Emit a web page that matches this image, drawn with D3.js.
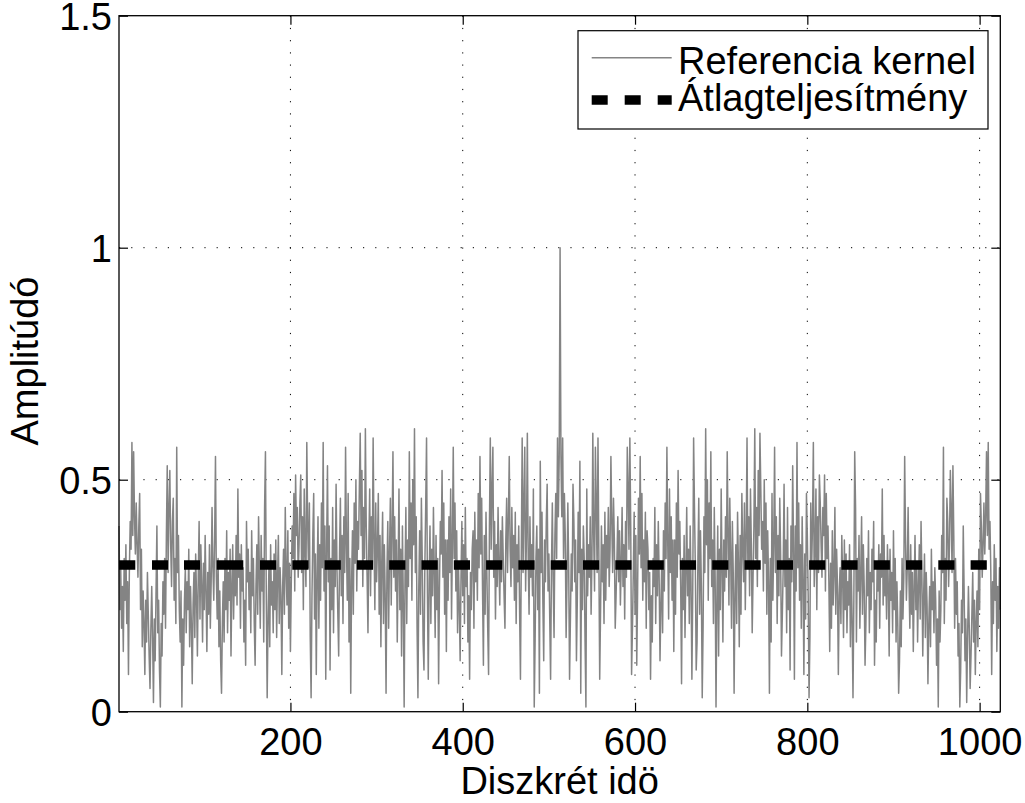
<!DOCTYPE html>
<html><head><meta charset="utf-8">
<script src="https://cdn.jsdelivr.net/npm/d3@7"></script>
<style>
body{margin:0;background:#fff;}
svg{display:block;}
text{font-family:"Liberation Sans",Arial,Helvetica,sans-serif;fill:#000;}
</style>
</head><body>
<svg id="chart" width="1025" height="803"></svg>
<script>
// ---- data (amplitudes in hundredths, samples 1..1024) ----
const kernelFirstHalf = [
40,22,31,18,27,13,33,24,36,19,28,8,30,41,35,58,38,56,42,34,
45,36,29,40,47,22,35,14,26,19,8,24,15,30,21,12,5,18,27,16,
2,20,11,26,40,17,24,9,1,19,12,28,21,33,18,38,53,30,44,52,
36,27,41,46,24,33,19,57,30,38,22,15,26,1,20,10,24,31,17,28,
22,35,14,27,19,6,23,30,16,34,25,12,29,41,20,36,27,15,32,22,
38,26,13,30,21,36,18,28,44,31,24,37,55,29,20,33,14,26,11,4,
19,28,15,33,22,39,17,30,24,35,12,27,36,20,31,25,38,23,48,29,
34,18,36,26,31,15,24,10,41,28,35,22,30,17,39,25,33,19,10,27,
36,21,42,30,18,38,26,33,15,44,56,24,3,20,31,14,36,23,28,17,
34,22,37,16,29,38,19,31,25,8,27,35,21,44,30,23,39,18,32,13,
28,40,33,47,26,51,38,44,29,36,45,51,30,42,22,48,35,27,58,40,
31,45,16,3,25,38,47,20,34,8,29,42,18,36,24,45,31,58,26,40,
7,35,53,28,40,9,33,22,44,17,37,27,49,31,21,12,34,46,25,38,
19,42,30,57,36,24,47,15,33,4,28,39,21,45,32,50,26,41,35,48,
60,38,52,27,44,33,61,40,29,17,36,48,25,42,31,59,37,22,45,28,
35,47,21,38,14,32,43,19,36,25,4,30,41,18,34,46,23,39,56,29,
42,26,37,15,31,48,22,35,12,40,24,1,29,44,19,37,27,56,33,45,
24,50,36,61,30,42,18,3,27,39,21,46,33,15,9,31,44,59,26,7,
28,40,19,35,25,44,30,16,38,22,33,6,27,41,34,52,29,45,21,37,
13,37,24,42,30,48,20,36,57,33,45,26,39,17,32,23,11,29,41,25,
36,19,44,27,33,15,25,7,30,22,35,39,18,43,28,37,24,47,31,55,
34,46,26,10,38,21,43,30,18,8,40,59,35,48,57,29,41,20,36,27,
44,32,23,39,28,42,33,25,18,37,46,30,41,55,35,27,44,31,38,24,
43,19,36,28,40,22,7,34,59,30,45,57,26,38,60,33,21,42,29,36,
25,48,1,15,33,40,22,35,4,54,30,43,24,11,37,28,41,49,26,34,
20,7,31,45,28,16,38,47,33,59,42,55,100
];
const kernelSecondHalf = [
55,42,59,33,47,38,16,28,45,31,7,20,
34,26,49,41,28,37,11,24,43,30,54,4,35,22,40,33,15,1,48,25,
36,29,42,21,33,60,38,26,57,45,30,59,34,7,22,40,28,36,19,43,
24,38,31,44,27,35,55,41,30,46,37,18,25,33,42,28,39,23,32,44,
27,36,20,41,29,57,48,35,59,40,8,18,30,43,21,38,10,26,46,34,
55,31,47,24,37,28,43,18,39,35,22,30,7,25,15,33,27,44,19,36,
25,41,29,11,23,32,17,39,26,45,33,57,36,20,48,30,42,24,37,13,
37,21,45,29,52,34,41,27,6,33,22,38,16,30,44,25,35,19,40,28,
7,26,59,44,31,9,15,33,46,21,39,27,3,18,42,30,61,36,50,24,
45,33,56,27,37,19,44,29,1,24,40,12,35,22,48,31,15,37,26,42,
29,56,39,23,46,34,18,41,30,4,25,36,19,43,32,14,38,21,47,35,
28,45,22,37,59,31,42,25,48,36,17,29,40,61,33,44,27,52,38,60,
48,35,41,26,50,32,45,21,39,28,4,33,15,47,24,36,57,30,42,19,
38,25,46,34,12,21,31,49,27,37,17,44,22,33,9,40,28,53,35,7,
40,26,58,31,45,24,36,18,42,29,8,34,20,47,38,25,3,16,45,31,
40,58,27,35,48,22,42,30,51,45,36,29,44,38,51,26,47,33,40,28,
13,32,18,39,23,30,44,21,35,27,8,25,31,19,38,29,16,37,22,34,
17,28,23,36,14,31,20,3,24,56,44,15,33,26,38,18,30,42,21,36,
27,10,19,33,25,39,17,30,22,35,28,41,10,24,15,31,26,36,18,34,
29,48,23,38,25,31,20,36,27,12,35,24,30,17,39,22,33,15,28,19,
4,11,26,14,33,20,29,55,37,24,31,44,28,18,36,21,30,13,26,38,
22,32,15,27,36,20,41,29,12,25,34,16,30,23,6,19,27,14,35,22,
28,17,31,24,10,20,1,26,15,22,38,30,57,19,33,24,46,41,27,36,
52,44,30,53,38,18,33,21,28,12,19,1,9,24,17,40,26,11,20,2,
16,27,18,5,12,21,30,15,24,8,19,26,14,35,22,47,40,29,36,45,
34,42,56,38,58,35,41,30,8,28,19,36,24,33,13,27,18,31,22
];
const averagePower = 0.316;
const xDomain = [1, 1024];
const yDomain = [0, 1.5];
const xTickValues = [200, 400, 600, 800, 1000];
const yTickValues = [0, 0.5, 1, 1.5];
const yTickLabels = ["0", "0.5", "1", "1.5"];
const seriesNames = ["Referencia kernel", "Átlagteljesítmény"];
const xAxisTitle = "Diszkrét idö";
const yAxisTitle = "Amplitúdó";

// ---- layout ----
const L = 119, R = 1000.3, T = 15.7, B = 711.7;
const FS = 38;
const svg = d3.select("#chart");
const x = d3.scaleLinear().domain(xDomain).range([L, R]);
const y = d3.scaleLinear().domain(yDomain).range([B, T]);

const amplitude = kernelFirstHalf.concat(kernelSecondHalf).map(v => v / 100);
const samples = amplitude.map((v, i) => ({n: i + 1, v}));

// grid (dotted)
const grid = svg.append("g").attr("stroke", "#000").attr("stroke-width", 1)
  .attr("stroke-dasharray", "1.2,11").attr("fill", "none");
xTickValues.forEach(t => {
  grid.append("line").attr("x1", x(t)).attr("x2", x(t)).attr("y1", y(yDomain[1])).attr("y2", y(yDomain[0]));
});
yTickValues.filter(t => t > yDomain[0] && t < yDomain[1]).forEach(t => {
  grid.append("line").attr("x1", x(xDomain[0])).attr("x2", x(xDomain[1])).attr("y1", y(t)).attr("y2", y(t));
});

// kernel series
svg.append("path").datum(samples)
  .attr("fill", "none").attr("stroke", "#848484").attr("stroke-width", 1.5)
  .attr("stroke-linejoin", "round")
  .attr("d", d3.line().x(d => x(d.n)).y(d => y(d.v)));

// average power (thick dashed)
const dashPattern = [16.3,16.7,16,16,16,16.7,26.6,16.7].concat(d3.range(28).flatMap(() => [16.2,16.1]));
svg.append("line")
  .attr("x1", x(xDomain[0])).attr("x2", x(xDomain[1]))
  .attr("y1", y(averagePower)).attr("y2", y(averagePower))
  .attr("stroke", "#000").attr("stroke-width", 9.5)
  .attr("stroke-dasharray", dashPattern.join(","));

// axes box + ticks
const axStyle = g => { g.select(".domain").remove(); g.selectAll(".tick line").attr("stroke", "#000").attr("stroke-width", 1.2); g.selectAll("text").attr("font-size", FS).attr("font-family", "Liberation Sans, Arial, sans-serif").attr("fill", "#000"); };
svg.append("g").attr("transform", `translate(0,${B})`)
  .call(d3.axisBottom(x).tickValues(xTickValues).tickFormat(d3.format("d")).tickSize(-9).tickSizeOuter(0).tickPadding(16.3))
  .call(axStyle);
svg.append("g").attr("transform", `translate(0,${T})`)
  .call(d3.axisTop(x).tickValues(xTickValues).tickFormat("").tickSize(-9).tickSizeOuter(0))
  .call(axStyle);
const leftAxis = svg.append("g").attr("transform", `translate(${L},0)`)
  .call(d3.axisLeft(y).tickValues(yTickValues).tickFormat((d, i) => yTickLabels[i]).tickSize(-9).tickSizeOuter(0).tickPadding(7))
  .call(axStyle);
leftAxis.selectAll("text").attr("dy", "0.36em");
svg.append("g").attr("transform", `translate(${R},0)`)
  .call(d3.axisRight(y).tickValues(yTickValues).tickFormat("").tickSize(-9).tickSizeOuter(0))
  .call(axStyle);
svg.append("rect").attr("x", L).attr("y", T).attr("width", R - L).attr("height", B - T)
  .attr("fill", "none").attr("stroke", "#000").attr("stroke-width", 1.3);

// axis titles
svg.append("text").attr("x", (L + R) / 2).attr("y", 794).attr("text-anchor", "middle")
  .attr("font-size", FS).text(xAxisTitle);
svg.append("text").attr("transform", `translate(38.3,${361}) rotate(-90)`).attr("text-anchor", "middle")
  .attr("font-size", FS).text(yAxisTitle);

// legend
const lg = svg.append("g");
lg.append("rect").attr("x", 578).attr("y", 30.7).attr("width", 410).attr("height", 98.3)
  .attr("fill", "#fff").attr("stroke", "#000").attr("stroke-width", 1.2);
lg.append("line").attr("x1", 591.7).attr("x2", 671.7).attr("y1", 57.7).attr("y2", 57.7)
  .attr("stroke", "#848484").attr("stroke-width", 1.5);
lg.append("text").attr("x", 678).attr("y", 74).attr("font-size", FS).text(seriesNames[0]);
lg.append("line").attr("x1", 591.7).attr("x2", 671.7).attr("y1", 100).attr("y2", 100)
  .attr("stroke", "#000").attr("stroke-width", 9.5).attr("stroke-dasharray", "16,17");
lg.append("text").attr("x", 678).attr("y", 111).attr("font-size", FS).text(seriesNames[1]);
</script>
</body></html>
